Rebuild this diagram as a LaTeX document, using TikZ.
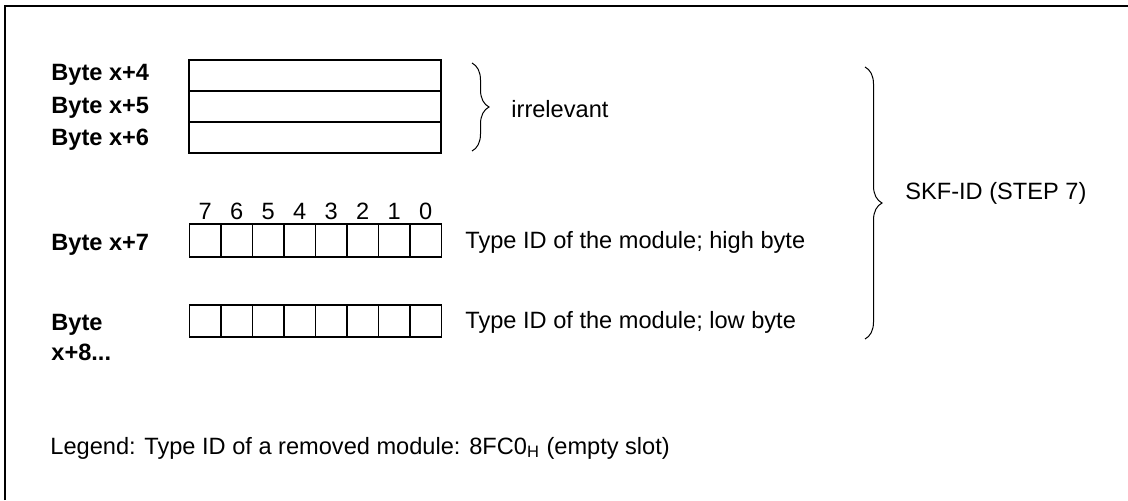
\documentclass[tikz,border=0pt]{standalone}
\usepackage{fontspec}
\setmainfont{Liberation Sans}
\usetikzlibrary{decorations.pathreplacing}

\newcommand{\figfont}{\fontsize{11.8}{15}\selectfont}

\tikzset{
  bytebox/.style={draw,line width=0.55pt,minimum width=126pt,minimum height=15.5pt,inner sep=0pt},
  bitcell/.style={draw,line width=0.55pt,minimum width=15.75pt,minimum height=16.5pt,inner sep=0pt},
  bytelbl/.style={font=\figfont\bfseries,anchor=west,inner sep=0pt,align=left},
  txt/.style={anchor=west,inner sep=0pt},
  curly/.style={decorate,decoration={brace,amplitude=8.5pt},line width=0.5pt}
}

\begin{document}
\begin{tikzpicture}[x=0.5pt,y=-0.5pt,font=\figfont]
\useasboundingbox (0,0) rectangle (1128,500);
\draw[line width=0.9pt] (5,500) -- (5,6) -- (1128,6);

% irrelevant bytes
\node[bytebox] (b4) at (315,75.5) {};
\node[bytebox] (b5) at (315,106.5) {};
\node[bytebox] (b6) at (315,137.5) {};
\node[bytelbl] (l4) at (51,75) {Byte x+4};
\node[bytelbl] (l5) at (51,108) {Byte x+5};
\node[bytelbl] (l6) at (51,140) {Byte x+6};
\draw[curly] (472,63) -- (472,151) coordinate[midway] (tipa);
\node[txt] (irr) at (511,109) {irrelevant};

% type ID bytes
\foreach \i in {0,...,7} {
  \node[bitcell] (h\i) at ({425.75-\i*31.5},240.5) {};
  \node[inner sep=0pt] (n\i) at ({425.75-\i*31.5},211) {\i};
  \node[bitcell,minimum height=16pt] (w\i) at ({425.75-\i*31.5},321) {};
}
\node[bytelbl] (l7) at (51,245) {Byte x+7};
\node[bytelbl] (l8) at (51,337) {Byte\\x+8...};
\node[txt] (hi) at (465,242) {Type ID of the module; high byte};
\node[txt] (lo) at (465,322) {Type ID of the module; low byte};

\draw[curly] (865,67) -- (865,339) coordinate[midway] (tipb);
\node[txt] (skf) at (905,193) {SKF-ID (STEP 7)};

\node[txt] (leg) at (50,448) {Legend: Type ID of a removed module: 8FC0\textsubscript{H} (empty slot)};
\end{tikzpicture}
\end{document}
